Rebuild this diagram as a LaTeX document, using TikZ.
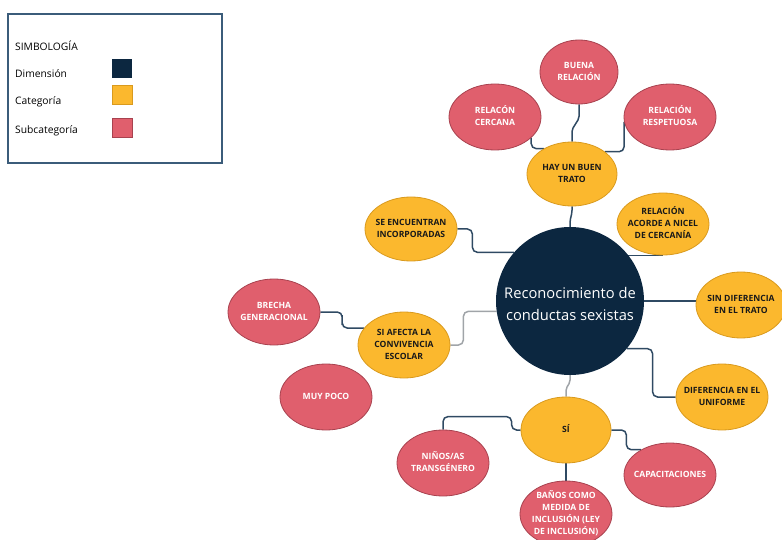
\documentclass[tikz,border=0pt]{standalone}
\usepackage{fontspec}
\setmainfont{Open Sans}
\usetikzlibrary{shapes.geometric,calc,backgrounds}
\definecolor{navy}{HTML}{0C2740}
\definecolor{gold}{HTML}{FBB82E}
\definecolor{goldline}{HTML}{D99A1E}
\definecolor{rose}{HTML}{E05F6D}
\definecolor{roseline}{HTML}{A8424F}
\definecolor{wire}{HTML}{2F4A63}
\definecolor{greywire}{HTML}{A0A4A8}
\definecolor{frame}{HTML}{3B5C7A}
\newcommand{\ctextat}[2]{\smash{\makebox[0pt]{\raisebox{#1}{\begin{tabular}{@{}c@{}}#2\end{tabular}}}}}
\newcommand{\ctext}[1]{\ctextat{-0.25em}{#1}}
\tikzset{
  cat/.style={ellipse, draw=goldline, line width=0.8pt, fill=gold, inner sep=0pt,
    minimum width=92pt, minimum height=66pt, text=black!90,
    font=\bfseries\fontsize{8.6}{12}\selectfont},
  sub/.style={ellipse, draw=roseline, line width=0.8pt, fill=rose, inner sep=0pt,
    minimum width=92pt, minimum height=66pt, text=white,
    font=\bfseries\fontsize{8.6}{12}\selectfont},
  dim/.style={circle, fill=navy, inner sep=0pt, minimum size=148pt, text=white,
    font=\fontsize{14.7}{22}\selectfont},
  link/.style={draw=wire, line width=1.5pt, rounded corners=5pt},
  glink/.style={link, draw=greywire},
  legtext/.style={anchor=west, inner sep=0pt, text=black, font=\fontsize{10.3}{12}\selectfont},
  swatch/.style={minimum width=20pt, minimum height=19pt, inner sep=0pt, line width=0.8pt}
}
\begin{document}
\begin{tikzpicture}[x=1pt,y=-1pt]
\useasboundingbox (0,0) rectangle (782,540);
% legend
\draw[frame, line width=1.2pt] (8,14) rectangle (222,163);
\node[legtext] (lsim) at (15,46) {SIMBOLOGÍA};
\node[legtext] (ldim) at (15,74) {Dimensión};
\node[legtext] (lcat) at (15,102) {Categoría};
\node[legtext] (lsub) at (15,131) {Subcategoría};
\node[swatch, fill=navy] (sdim) at (122,69) {};
\node[swatch, fill=gold, draw=goldline] (scat) at (122,95) {};
\node[swatch, fill=rose, draw=roseline] (ssub) at (122,128) {};
% nodes
\node[dim] (center) at (570,301) {\ctextat{-8pt}{Reconocimiento de\\conductas sexistas}};
\node[cat, minimum width=90pt, minimum height=64pt] (hay) at (572,174) {\ctext{HAY UN BUEN\\TRATO}};
\node[cat, minimum height=64pt] (se) at (411,229) {\ctext{SE ENCUENTRAN\\INCORPORADAS}};
\node[cat, minimum height=62pt] (acorde) at (663,224) {\ctext{RELACIÓN\\ACORDE A NICEL\\DE CERCANÍA}};
\node[cat, minimum width=90pt] (sin) at (741,305) {\ctext{SIN DIFERENCIA\\EN EL TRATO}};
\node[cat] (afecta) at (404,345) {\ctext{SI AFECTA LA\\CONVIVENCIA\\ESCOLAR}};
\node[cat] (uniforme) at (722,397) {\ctext{DIFERENCIA EN EL\\UNIFORME}};
\node[cat, minimum width=90pt] (si) at (566,430) {\ctext{SÍ}};
\node[sub, minimum width=78pt, minimum height=64pt] (buena) at (579,72) {\ctext{BUENA\\RELACIÓN}};
\node[sub] (cercana) at (495,117) {\ctext{RELACÓN\\CERCANA}};
\node[sub] (respetuosa) at (670,117) {\ctext{RELACIÓN\\RESPETUOSA}};
\node[sub] (brecha) at (274,312) {\ctext{BRECHA\\GENERACIONAL}};
\node[sub] (poco) at (326,397) {\ctext{MUY POCO}};
\node[sub] (ninos) at (443,463) {\ctext{NIÑOS/AS\\TRANSGÉNERO}};
\node[sub] (banos) at (566,514) {\ctext{BAÑOS COMO\\MEDIDA DE\\INCLUSIÓN (LEY\\DE INCLUSIÓN)}};
\node[sub, minimum height=64pt] (cap) at (670,475) {\ctext{CAPACITACIONES}};
% connectors
\begin{pgfonlayer}{background}
\path[link, rounded corners=2pt] (hay.north) -- ([yshift=12pt]hay.north) -- ([yshift=-14pt]buena.south) -- (buena.south);
\path[link] (hay.138) -| (cercana.-30);
\path[link] (hay.34) -| (respetuosa.186);
\path[link, rounded corners=2pt] (center.north) -- ([yshift=6pt]center.north) -- ([yshift=-6pt]hay.south) -- (hay.south);
\path[link] (center.139) -| ([xshift=15pt]se.east) -- (se.east);
\path[link] (center.38) -- (center.38 -| acorde.south);
\path[link] (center.east) -- (center.east -| sin.west);
\path[link] (center.-40) -| ([xshift=-23pt]uniforme.west) -- (uniforme.west);
\path[glink] (center.188) -| ([xshift=13pt]afecta.east) -- (afecta.east);
\path[link] (brecha.east) -| ($(brecha.east)!0.5!(afecta.157)$) |- (afecta.157);
\path[glink, rounded corners=2pt] (center.south) -- ([yshift=-7pt]center.south) -- ([yshift=8pt]si.north) -- (si.north);
\path[link] (si.west) -- ([xshift=-9pt]si.west) |- ([yshift=13pt]ninos.north) -- (ninos.north);
\path[link] (si.south) -- (banos.north);
\path[link] (si.east) -- ([xshift=15pt]si.east) |- (cap.139);
\end{pgfonlayer}
\end{tikzpicture}
\end{document}
